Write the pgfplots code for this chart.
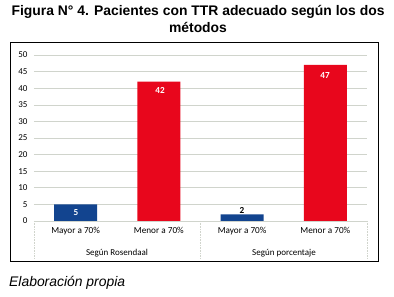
\documentclass[border=0pt]{standalone}
\usepackage{pgfplots}
\pgfplotsset{compat=1.18}
\usepackage{fontspec}
\setmainfont{Liberation Sans}
\newfontfamily\calibri{Carlito}
\definecolor{barblue}{HTML}{12448F}
\definecolor{barred}{HTML}{E8061C}
\definecolor{gridc}{HTML}{D0D4CC}
\begin{document}
\begin{tikzpicture}[x=1pt,y=1pt]
\useasboundingbox (0,0) rectangle (394,297);
% outer frame
\draw[black, line width=0.9pt] (10,36) rectangle (378,255);
% title
\node[font=\bfseries\fontsize{13.9}{17.5}\selectfont, align=center, anchor=north, inner sep=0pt] at (198,292)
  {Figura N° 4. Pacientes con TTR adecuado según los dos\\métodos};
% footer
\node[font=\itshape\fontsize{13.9}{15}\selectfont, anchor=west, inner sep=0pt] at (9,14) {Elaboración propia};
\begin{axis}[
  at={(34pt,76pt)}, anchor=south west,
  width=333pt, height=166pt, scale only axis,
  xmin=-0.5, xmax=3.5, ymin=0, ymax=50,
  ytick={0,5,...,50},
  xtick={0,1,2,3},
  xticklabels={Mayor a 70\%,Menor a 70\%,Mayor a 70\%,Menor a 70\%},
  axis line style={draw=none},
  ymajorgrids, grid style={gridc, line width=0.6pt},
  major tick length=0pt,
  tick label style={font=\calibri\fontsize{9}{10}\selectfont},
  xticklabel style={font=\calibri\fontsize{9.2}{10}\selectfont, yshift=-3pt},
  yticklabel style={xshift=-3pt},
  /pgf/number format/assume math mode=true,
  ybar, bar width=43pt,
  clip=false,
]
\addplot[fill=barblue, draw=none, bar shift=0pt] coordinates {(0,5) (2,2)};
\addplot[fill=barred, draw=none, bar shift=0pt] coordinates {(1,42) (3,47)};
\draw[gridc, line width=0.6pt] (axis cs:-0.5,0) -- (axis cs:3.5,0);
\end{axis}
% data labels
\begin{scope}[font=\calibri\bfseries\fontsize{9.2}{10}\selectfont]
\node[white] at (76,84) {5};
\node[white] at (160,207) {42};
\node[black] at (242,87) {2};
\node[white] at (325,221) {47};
\end{scope}
% category table separators
\draw[gridc, line width=0.6pt, densely dotted] (34,76) -- (34,39);
\draw[gridc, line width=0.6pt, densely dotted] (200.5,76) -- (200.5,39);
\draw[gridc, line width=0.6pt, densely dotted] (367,76) -- (367,39);
\node[font=\calibri\fontsize{9}{10}\selectfont] at (117,44) {Según Rosendaal};
\node[font=\calibri\fontsize{9}{10}\selectfont] at (284,44) {Según porcentaje};
\end{tikzpicture}
\end{document}
